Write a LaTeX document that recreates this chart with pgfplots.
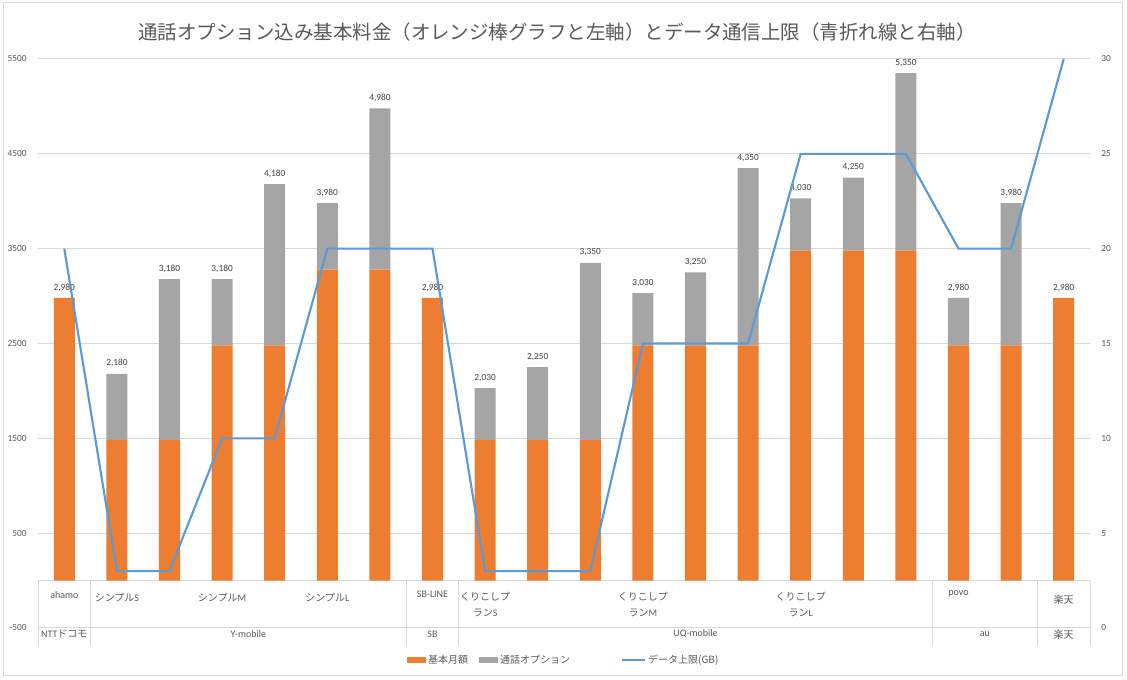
\documentclass[border=0pt]{standalone}
\usepackage{pgfplots}
\usepackage{pgfplotstable}
\pgfplotsset{compat=1.18}
\usepackage{fontspec}
\setmainfont{Carlito}
\newfontfamily\jp{Noto Sans CJK JP}
\definecolor{xorange}{HTML}{ED7D31}
\definecolor{xgray}{HTML}{A5A5A5}
\definecolor{xblue}{HTML}{5B9BD5}
\definecolor{xgrid}{HTML}{D9D9D9}
\definecolor{xtext}{HTML}{595959}
\definecolor{xlab}{HTML}{404040}

\pgfplotstableread{
x base opt total
0 2980 0 2980
1 1480 700 2180
2 1480 1700 3180
3 2480 700 3180
4 2480 1700 4180
5 3280 700 3980
6 3280 1700 4980
7 2980 0 2980
8 1480 550 2030
9 1480 770 2250
10 1480 1870 3350
11 2480 550 3030
12 2480 770 3250
13 2480 1870 4350
14 3480 550 4030
15 3480 770 4250
16 3480 1870 5350
17 2480 500 2980
18 2480 1500 3980
19 2980 0 2980
}\bars

\pgfplotstableread{
x gb
0 20
1 3
2 3
3 10
4 10
5 20
6 20
7 20
8 3
9 3
10 3
11 15
12 15
13 15
14 25
15 25
16 25
17 20
18 20
19 30
}\gbdata

\tikzset{lab/.style={font=\fontsize{7.5}{12}\selectfont, text=xtext, inner sep=0pt, align=center}}

\begin{document}
\begin{tikzpicture}
\useasboundingbox (-28.5pt,-39pt) rectangle (816.75pt,471pt);
\draw[xgrid, line width=0.75pt] (-26.25pt,-36pt) rectangle (813pt,468.75pt);
\node[font=\jp\fontsize{14.6}{16}\selectfont, text=xtext] at (389.25pt,447pt) {通話オプション込み基本料金（オレンジ棒グラフと左軸）とデータ通信上限（青折れ線と右軸）};

\begin{axis}[
  at={(0,0)}, anchor=south west, scale only axis,
  width=789pt, height=426.75pt,
  ybar stacked, bar width=0.4,
  xmin=-0.5, xmax=19.5, ymin=-500, ymax=5500,
  ytick={-500,500,1500,2500,3500,4500,5500},
  yticklabels={-500,500,1500,2500,3500,4500,5500},
  xtick=\empty,
  axis line style={draw=none},
  ymajorgrids, grid style={xgrid, line width=0.75pt},
  major tick length=0,
  yticklabel style={font=\fontsize{7}{8}\selectfont, text=xtext, xshift=-5pt},
  clip=false,
  legend columns=3,
  legend style={at={(0.5,-0.0562)}, anchor=center, draw=none, fill=none,
    font=\jp\fontsize{7.5}{9}\selectfont, text=xtext,
    /tikz/column 2/.style={column sep=6pt},
    /tikz/column 4/.style={column sep=36pt}},
]
\addplot[fill=xorange, draw=none,
  legend image code/.code={\fill[xorange] (0pt,-2.6pt) rectangle (14pt,2.6pt);}]
  table[x=x, y=base]{\bars};
\addlegendentry{基本月額}
\addplot[fill=xgray, draw=none,
  legend image code/.code={\fill[xgray] (0pt,-2.6pt) rectangle (14pt,2.6pt);}]
  table[x=x, y=opt]{\bars};
\addlegendentry{通話オプション}
\addlegendimage{xblue, line width=1.5pt, legend image code/.code={\draw[xblue, line width=1.5pt] (0pt,0pt) -- (17pt,0pt);}}
\addlegendentry{データ上限(GB)}

\draw[xgrid, line width=0.75pt] (axis cs:-0.5,0) -- (axis cs:19.5,0);
\draw[xgrid, line width=0.75pt] (axis cs:-0.5,0) -- (axis cs:-0.5,-690);
\draw[xgrid, line width=0.75pt] (axis cs:0.5,0) -- (axis cs:0.5,-690);
\draw[xgrid, line width=0.75pt] (axis cs:6.5,0) -- (axis cs:6.5,-690);
\draw[xgrid, line width=0.75pt] (axis cs:7.5,0) -- (axis cs:7.5,-690);
\draw[xgrid, line width=0.75pt] (axis cs:16.5,0) -- (axis cs:16.5,-690);
\draw[xgrid, line width=0.75pt] (axis cs:18.5,0) -- (axis cs:18.5,-690);
\draw[xgrid, line width=0.75pt] (axis cs:19.5,0) -- (axis cs:19.5,-690);

\node[lab] at (axis cs:0,-150) {ahamo};
\node[lab] at (axis cs:1,-180) {{\jp シンプル}S};
\node[lab] at (axis cs:3,-180) {{\jp シンプル}M};
\node[lab] at (axis cs:5,-180) {{\jp シンプル}L};
\node[lab] at (axis cs:7,-140) {SB-LINE};
\node[lab] at (axis cs:8,-258) {{\jp くりこしプ}\\{\jp ラン}S};
\node[lab] at (axis cs:11,-258) {{\jp くりこしプ}\\{\jp ラン}M};
\node[lab] at (axis cs:14,-258) {{\jp くりこしプ}\\{\jp ラン}L};
\node[lab] at (axis cs:17,-145) {povo};
\node[lab] at (axis cs:19,-200) {{\jp 楽天}};

\node[lab] at (axis cs:0,-565) {NTT{\jp ドコモ}};
\node[lab] at (axis cs:3.5,-565) {Y-mobile};
\node[lab] at (axis cs:7,-565) {SB};
\node[lab] at (axis cs:12,-565) {UQ-mobile};
\node[lab] at (axis cs:17.5,-565) {au};
\node[lab] at (axis cs:19,-570) {{\jp 楽天}};
\end{axis}

\begin{axis}[
  at={(0,0)}, anchor=south west, scale only axis,
  width=789pt, height=426.75pt,
  xmin=-0.5, xmax=19.5, ymin=-500, ymax=5500,
  hide axis, clip=false,
]
\addplot[draw=none, mark=none, point meta=explicit,
  nodes near coords={\pgfmathprintnumber[assume math mode=true,fixed,precision=0,1000 sep={,}]{\pgfplotspointmeta}},
  every node near coord/.append style={font=\fontsize{7}{8}\selectfont, text=xlab, anchor=south, yshift=1.5pt}]
  table[x=x, y=total, meta=total]{\bars};
\end{axis}

\begin{axis}[
  at={(0,0)}, anchor=south west, scale only axis,
  width=789pt, height=426.75pt,
  xmin=-0.5, xmax=19.5, ymin=0, ymax=30,
  axis y line*=right, hide x axis,
  ytick={0,5,...,30},
  major tick length=0,
  axis line style={draw=none},
  /pgf/number format/assume math mode=true,
  yticklabel style={font=\fontsize{7}{8}\selectfont, text=xtext, xshift=5pt},
]
\addplot[xblue, line width=1.6pt, mark=none] table[x=x, y=gb]{\gbdata};
\end{axis}
\end{tikzpicture}
\end{document}
